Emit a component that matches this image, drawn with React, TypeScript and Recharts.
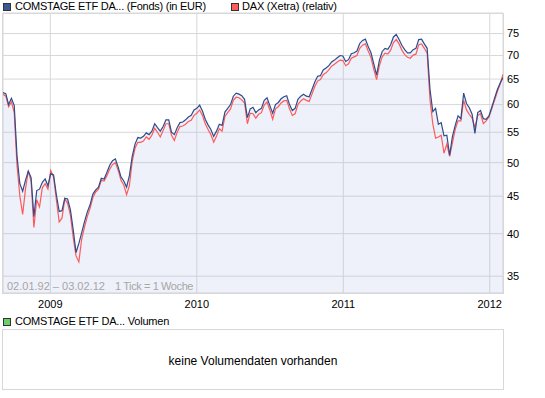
import React from "react";
import { ComposedChart, Area, Line, XAxis, YAxis, CartesianGrid } from "recharts";

// ---- data ----
const START_DATE = "2008-09-05"; // first weekly close, one point per week
const fondsValues = [
  62.3, 62.1, 60.0, 61.2, 59.8, 51.0, 46.8, 45.7, 47.3, 48.7,
  47.7, 42.2, 45.8, 46.0, 47.0, 47.5, 46.5, 48.3, 48.1, 45.2,
  42.9, 43.0, 44.7, 44.6, 43.1, 40.5, 37.7, 38.8, 40.1, 41.5,
  42.8, 43.8, 45.3, 45.9, 46.3, 47.6, 47.5, 48.5, 49.6, 50.3,
  50.6, 49.3, 47.8, 47.2, 46.3, 48.0, 51.0, 53.0, 54.1, 54.0,
  54.3, 54.9, 54.6, 55.2, 56.5, 55.8, 55.2, 56.0, 57.2, 57.2,
  55.0, 54.6, 55.8, 56.7, 56.8, 57.2, 57.7, 58.0, 59.0, 59.3,
  59.9, 58.8, 57.3, 56.3, 55.5, 54.3, 55.2, 56.4, 56.2, 58.6,
  59.3, 60.0, 61.6, 62.2, 62.0, 61.7, 61.0, 57.6, 59.2, 59.5,
  58.5, 59.0, 59.3, 60.8, 61.3, 59.8, 58.4, 60.0, 60.4, 61.1,
  61.5, 61.7, 60.0, 58.9, 59.3, 61.0, 61.6, 62.0, 61.6, 61.5,
  62.9, 64.4, 65.6, 65.7, 66.9, 67.3, 67.8, 68.6, 69.0, 69.5,
  70.0, 69.9, 68.7, 69.1, 70.4, 70.6, 71.0, 72.7, 73.4, 73.7,
  72.0, 70.6, 68.2, 65.8, 69.0, 70.9, 71.6, 71.4, 72.4, 74.2,
  74.8, 73.6, 72.3, 71.3, 70.6, 70.6, 71.3, 71.6, 73.6, 73.7,
  72.6, 71.6, 63.0, 58.7, 59.3, 56.4, 56.7, 54.4, 54.5, 51.2,
  54.3, 56.2, 57.9, 57.4, 62.2, 60.2, 59.4, 58.2, 54.8, 58.5,
  58.9, 57.4, 57.3, 57.9, 59.5, 61.2, 62.9, 64.2, 65.3,
];
const daxValues = [
  62.0, 61.6, 59.6, 60.5, 58.5, 49.5, 45.0, 42.5, 46.0, 48.7,
  47.2, 40.8, 44.5, 43.5, 46.2, 46.8, 46.0, 48.8, 47.8, 44.5,
  41.5, 42.0, 44.6, 44.0, 42.4, 39.5, 37.3, 36.6, 39.3, 40.8,
  42.2, 43.3, 44.8, 45.6, 46.0, 47.3, 47.2, 48.0, 49.0, 49.7,
  50.0, 48.8, 47.3, 46.6, 45.2, 46.5, 50.2, 52.3, 53.3, 53.3,
  53.5, 54.2, 53.8, 54.5, 55.7, 55.0, 54.2, 55.3, 56.5, 56.5,
  54.5, 53.6, 55.0, 56.0, 56.1, 56.4, 56.9, 57.1, 58.0, 58.4,
  59.0, 58.0, 56.5, 55.5, 54.6, 53.3, 54.3, 55.6, 55.2, 57.8,
  58.5, 59.2, 60.8, 61.4, 61.3, 60.9, 60.3, 56.5, 58.4, 58.3,
  57.5, 58.2, 58.5, 59.9, 60.5, 59.0, 57.3, 59.2, 59.6, 60.3,
  60.7, 60.8, 59.2, 58.0, 58.3, 60.0, 60.7, 61.1, 60.8, 60.6,
  62.0, 63.5, 64.6, 64.9, 65.9, 66.3, 66.9, 67.7, 68.1, 68.6,
  69.0, 68.9, 67.8, 68.2, 69.4, 69.7, 70.0, 71.6, 72.3, 72.6,
  71.0, 69.6, 67.0, 64.9, 67.8, 69.7, 70.5, 70.3, 71.2, 72.9,
  73.6, 72.6, 71.2, 70.2, 69.6, 69.4, 70.1, 70.3, 72.4, 72.6,
  71.6, 70.5, 61.0, 56.5, 54.0, 54.2, 54.5, 51.5, 53.0, 51.0,
  53.2, 55.5, 57.0, 57.0, 60.8, 59.0, 58.2, 57.5, 55.8, 58.0,
  58.3, 56.5, 57.0, 57.7, 59.2, 60.8, 62.5, 64.0, 66.0,
];
const yTicks = [35, 40, 45, 50, 55, 60, 65, 70, 75];
const yDomain = [33.2, 80];
const yearTickDates = ["2009-01-01", "2010-01-01", "2011-01-01", "2012-01-01"];
const legendFonds = "COMSTAGE ETF DA... (Fonds) (in EUR)";
const legendDax = "DAX (Xetra) (relativ)";
const legendVolume = "COMSTAGE ETF DA... Volumen";
const rangeLabel = "02.01.92 \u2013 03.02.12";
const tickInfoLabel = "1 Tick = 1 Woche";
const noVolumeLabel = "keine Volumendaten vorhanden";

// ---- build ----
const WEEK_MS = 7 * 24 * 3600 * 1000;
const startMs = Date.parse(START_DATE + "T00:00:00Z");
const data = fondsValues.map((v, i) => ({ t: startMs + i * WEEK_MS, fonds: v, dax: daxValues[i] }));
const xDomain = [data[0].t, data[data.length - 1].t];
const yearTicks = yearTickDates.map((d) => Date.parse(d + "T00:00:00Z"));

const FONT = '"Liberation Sans", Arial, sans-serif';
const GRID = "#d8d8d8";
const BLUE = "#2f4c8c";
const RED = "#ff5b5b";

const square = (left: number, top: number, color: string): React.CSSProperties => ({
  position: "absolute",
  left,
  top,
  width: 8,
  height: 8,
  boxSizing: "border-box",
  border: "1px solid #333",
  background: color,
});

const label = (left: number, top: number, extra?: React.CSSProperties): React.CSSProperties => ({
  position: "absolute",
  left,
  top,
  fontSize: 11,
  lineHeight: "13px",
  color: "#000",
  whiteSpace: "pre",
  ...extra,
});

export default function App() {
  return (
    <div style={{ position: "absolute", left: 0, top: 0, width: 545, height: 398, background: "#fff", fontFamily: FONT, overflow: "hidden" }}>
      <div style={{ position: "absolute", left: 0, top: 0 }}>
        <ComposedChart width={545} height={320} data={data} margin={{ top: 13, right: 0, bottom: 0, left: 3 }}>
          <CartesianGrid stroke={GRID} strokeWidth={1} />
          <XAxis
            dataKey="t"
            type="number"
            domain={xDomain}
            allowDataOverflow
            ticks={yearTicks}
            interval={0}
            tickFormatter={(v: number) => String(new Date(v).getUTCFullYear())}
            axisLine={false}
            tickLine={false}
            tickSize={0}
            tickMargin={7}
            height={27}
            tick={{ fill: "#000", fontSize: 11, fontFamily: FONT }}
          />
          <YAxis
            orientation="right"
            scale="log"
            domain={yDomain}
            allowDataOverflow
            ticks={yTicks}
            interval={0}
            width={42}
            axisLine={false}
            tickLine={false}
            tickSize={0}
            tickMargin={4}
            tick={{ fill: "#000", fontSize: 11, fontFamily: FONT }}
          />
          <Area
            dataKey="fonds"
            type="linear"
            stroke="none"
            fill="#aab9e1"
            fillOpacity={0.2}
            baseValue="dataMin"
            isAnimationActive={false}
          />
          <Line dataKey="dax" type="linear" stroke={RED} strokeWidth={1.2} dot={false} activeDot={false} isAnimationActive={false} />
          <Line dataKey="fonds" type="linear" stroke={BLUE} strokeWidth={1.2} dot={false} activeDot={false} isAnimationActive={false} />
        </ComposedChart>
      </div>

      {/* plot frame */}
      <div style={{ position: "absolute", left: 2, top: 13, width: 502, height: 281, boxSizing: "border-box", border: `1px solid ${GRID}` }} />

      {/* top legend */}
      <div style={square(3, 3, "#3a5894")} />
      <div style={label(15, 0, { letterSpacing: -0.25 })}>{legendFonds}</div>
      <div style={square(231, 3, RED)} />
      <div style={label(242, 0, { letterSpacing: -0.2 })}>{legendDax}</div>

      {/* info text inside plot */}
      <div style={label(7, 280, { color: "#a6a6a6" })}>{rangeLabel}</div>
      <div style={label(115, 280, { color: "#a6a6a6", letterSpacing: -0.4 })}>{tickInfoLabel}</div>

      {/* volume panel */}
      <div style={square(3, 318, "#6ccf6c")} />
      <div style={label(15, 315, { letterSpacing: -0.2 })}>{legendVolume}</div>
      <div
        style={{
          position: "absolute",
          left: 2,
          top: 329,
          width: 502,
          height: 61,
          boxSizing: "border-box",
          border: `1px solid ${GRID}`,
          display: "flex",
          alignItems: "center",
          justifyContent: "center",
          paddingTop: 3,
          fontSize: 12,
          color: "#000",
        }}
      >
        {noVolumeLabel}
      </div>
    </div>
  );
}
